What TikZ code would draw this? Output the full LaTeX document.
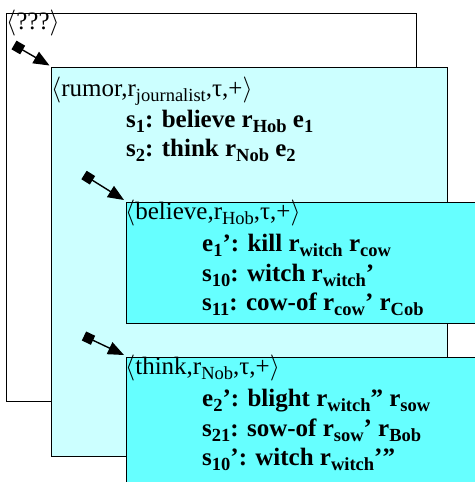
\RequirePackage{fix-cm}
\documentclass[tikz,border=0pt]{standalone}
\usepackage{fontspec}
\setmainfont{Liberation Serif}
\usetikzlibrary{arrows.meta}
\definecolor{lightcyan}{HTML}{CCFFFF}
\definecolor{midcyan}{HTML}{66FFFF}
\newcommand{\lo}[1]{\raisebox{-0.2em}{\fontsize{18.5}{18.5}\selectfont #1}}
\newcommand{\la}{{\fontsize{26}{28}\selectfont$\langle$}}
\newcommand{\ra}{{\fontsize{26}{28}\selectfont$\rangle$}}
\begin{document}
\begin{tikzpicture}[x=1pt,y=-1pt,
  box/.style={draw=black, line width=1.3pt, inner sep=0pt, anchor=north west},
  hdr/.style={anchor=base west, inner sep=0pt, font=\fontsize{25}{28}\selectfont},
  txt/.style={anchor=base west, inner sep=0pt, font=\fontsize{25}{28}\selectfont\bfseries},
  link/.style={line width=1.4pt, {Square[length=10pt,width=10pt]}-{Triangle[length=16pt,width=13pt]}}
]
\useasboundingbox (0,0) rectangle (474,482);
% boxes
\node[box, fill=white, minimum width=410.5pt, minimum height=388pt] (ctx) at (5.5,12.5) {};
\node[box, fill=lightcyan, minimum width=396.5pt, minimum height=389.5pt] (rumor) at (50.5,66.5) {};
\node[box, fill=midcyan, minimum width=360pt, minimum height=121pt] (believe) at (126,202) {};
\node[box, fill=midcyan, minimum width=360pt, minimum height=140pt] (think) at (126,357) {};
% links
\coordinate (t1) at (14,45);
\coordinate (t2) at (84,175);
\coordinate (t3) at (84,336);
\draw[link] (t1) -- ([shift={(-1,-1)}]rumor.north west);
\draw[link] (t2) -- ([shift={(-2,-2)}]believe.north west);
\draw[link] (t3) -- ([shift={(-2,-2)}]think.north west);
% outer text
\node[hdr] (h0) at (6,29) {\la???\ra};
% rumor
\node[hdr] (h1) at (51,96) {\la rumor,r\lo{journalist},τ,+\ra};
\node[txt] (s1) at (126,127) {s\lo{1}: believe r\lo{Hob} e\lo{1}};
\node[txt] (s2) at (126,156) {s\lo{2}: think r\lo{Nob} e\lo{2}};
% believe
\node[hdr] (h2) at (125,219) {\la believe,r\lo{Hob},τ,+\ra};
\node[txt] (b1) at (202,251) {e\lo{1}’: kill r\lo{witch} r\lo{cow}};
\node[txt] (b2) at (202,281) {s\lo{10}: witch r\lo{witch}’};
\node[txt] (b3) at (202,310) {s\lo{11}: cow-of r\lo{cow}’ r\lo{Cob}};
% think
\node[hdr] (h3) at (125,374) {\la think,r\lo{Nob},τ,+\ra};
\node[txt] (k1) at (202,406) {e\lo{2}’: blight r\lo{witch}” r\lo{sow}};
\node[txt] (k2) at (202,436) {s\lo{21}: sow-of r\lo{sow}’ r\lo{Bob}};
\node[txt] (k3) at (202,465) {s\lo{10}’: witch r\lo{witch}’”};
\end{tikzpicture}
\end{document}
